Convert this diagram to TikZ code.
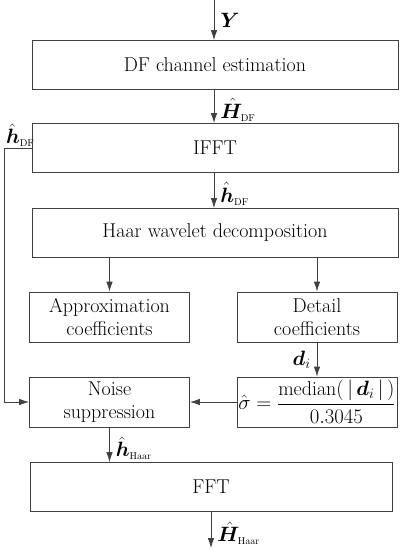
\documentclass[tikz,border=0pt]{standalone}
\usepackage{amsmath}
\usepackage{bm}
\usetikzlibrary{arrows.meta}

\newcommand{\subtxt}[1]{{\scriptscriptstyle\mathrm{#1}}}

\begin{document}
\begin{tikzpicture}[
        x=1pt, y=-1pt,
        >={Latex[length=10pt,width=6.5pt]},
        every node/.style={font=\fontsize{20}{23}\selectfont},
        block/.style={draw=black!75,line width=0.8pt,align=center,inner sep=0pt},
        wide/.style={block,minimum width=366pt,minimum height=49pt},
        half/.style={block,minimum width=160pt,minimum height=50pt},
        flow/.style={->,draw=black!75,line width=0.8pt},
        sig/.style={inner sep=6pt}
    ]
    \useasboundingbox (0,0) rectangle (401,550);

    % Main chain
    \node[wide] (df)   at (215,65)  {DF channel estimation};
    \node[wide] (ifft) at (215,148) {IFFT};
    \node[wide] (haar) at (215,233) {Haar wavelet decomposition};

    % Wavelet branches
    \node[half] (approx) at (109.5,317) {Approximation\\coefficients};
    \node[half] (detail) at (317,317)   {Detail\\coefficients};
    \node[half] (noise)  at (109.5,402) {Noise\\suppression};
    \node[half] (sigma)  at (317,402)
        {$\hat{\sigma}=\dfrac{\text{median}(\,|\,\bm{d}_i\,|\,)}{0.3045}$};

    \node[wide,minimum width=362pt] (fft) at (211,487) {FFT};

    \coordinate (yin)  at (214,0);
    \coordinate (hout) at (211,548);

    % Connectors
    \draw[flow] (yin |- 0,0) -- node[sig,right] {$\bm{Y}$} (yin |- df.north);
    \draw[flow] (df.south -| yin) -- node[sig,right,pos=0.6]
        {$\hat{\bm{H}}_\subtxt{DF}$} (ifft.north -| yin);
    \draw[flow] (ifft.south -| yin) -- node[sig,right,pos=0.6]
        {$\hat{\bm{h}}_\subtxt{DF}$} (haar.north -| yin);

    \draw[flow] (haar.south -| approx.north) -- (approx.north);
    \draw[flow] (haar.south -| detail.north) -- (detail.north);

    \draw[flow] (detail.south) -- node[sig,left] {$\bm{d}_i$} (sigma.north);
    \draw[flow] (sigma.west) -- (noise.east);

    % Feedback of the IFFT output
    \draw[flow] (ifft.west) -- ++(-27,0)
        node[above right,inner sep=1pt] {$\hat{\bm{h}}_\subtxt{DF}$}
        |- (noise.west);

    \draw[flow] (noise.south) -- node[sig,right,pos=0.6]
        {$\hat{\bm{h}}_\subtxt{Haar}$} (noise.south |- fft.north);
    \draw[flow] (fft.south) -- node[sig,right,pos=0.6]
        {$\hat{\bm{H}}_\subtxt{Haar}$} (hout);

\end{tikzpicture}
\end{document}
